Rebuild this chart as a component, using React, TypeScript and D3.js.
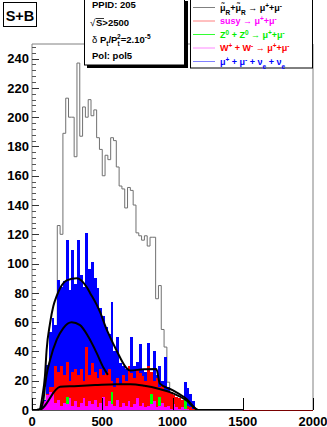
import * as d3 from 'd3';
import React, { useEffect, useRef } from 'react';

// bin width 20, bins start at 0
const BIN = 20;
const grayCounts = [0, 0, 1, 3, 6, 15, 30, 45, 55, 126, 120, 189, 213, 200, 200, 173, 237, 187, 207,
  200, 212, 201, 205, 186, 178, 160, 174, 171, 186, 184, 166, 153, 151, 138, 152, 150, 140, 121, 119,
  116, 119, 112, 118, 118, 76, 85, 55, 43, 19, 10, 6, 4, 2, 1];
const blueCounts = [0, 0, 1, 3, 7, 31, 53, 63, 58, 89, 84, 88, 116, 82, 109, 86, 116, 92, 84, 121, 96,
  101, 90, 83, 70, 64, 57, 52, 74, 40, 50, 32, 30, 28, 30, 50, 30, 33, 45, 28, 26, 46, 26, 40, 24, 30,
  20, 36, 16, 12, 10, 9, 8, 7, 19, 15, 11, 6, 1];
const redCounts = [0, 0, 0, 2, 5, 11, 16, 16, 30, 26, 30, 24, 33, 20, 26, 28, 24, 28, 20, 43, 24, 32,
  26, 22, 28, 24, 26, 28, 20, 16, 22, 18, 24, 20, 30, 25, 22, 27, 25, 23, 20, 30, 26, 20, 22, 16, 17,
  14, 13, 12, 10, 9, 8, 7, 5, 3, 2, 1];
const magentaCounts = [0, 0, 0, 2, 6, 10, 12, 11, 5, 7, 3, 5, 4, 8, 3, 6, 2, 5, 8, 3, 6, 4, 7, 2, 5, 9,
  3, 6, 4, 3, 7, 2, 5, 3, 6, 2, 4, 8, 3, 5, 2, 3, 4, 6, 2, 3, 5, 2, 3, 1, 4, 2, 1, 2, 1, 1];
const greenBins = [12, 28, 42, 45, 54];
const greenCounts = [9, 12, 11, 9, 7];
const HIST_END = 1500;

// fit curves, [x, value]
const fitUpper = [[0, 0], [50, 0], [75, 10], [92, 23], [104, 41], [128, 59], [152, 71], [176, 78],
  [199, 83], [247, 88.5], [318, 90], [389, 84], [413, 80], [460, 72], [484, 67], [531, 55], [555, 50],
  [600, 41], [626, 36], [674, 28.5], [697, 27], [792, 27.8], [885, 28], [910, 18], [1000, 13.5],
  [1100, 7.5], [1185, 0], [1500, 0]];
const fitMiddle = [[0, 0], [50, 0], [80, 6], [92, 16], [104, 24], [128, 34], [176, 48], [223, 56],
  [282, 60], [342, 58], [401, 50], [460, 39], [508, 29], [540, 24]];
const fitLower = [[0, 0], [50, 0], [200, 15.8], [300, 16.3], [450, 17], [600, 17.6], [700, 17.6],
  [800, 16.5], [900, 14.5], [1000, 11.5], [1100, 6.5], [1185, 0], [1500, 0]];

const xTicks = [0, 500, 1000, 1500, 2000];
const yMajor = [0, 20, 40, 60, 80, 100, 120, 140, 160, 180, 200, 220, 240];

const legendRows = [
  { line: '#808080', color: '#000', parts: [['μ̃', null], ['R', 'sub'], ['+μ̃', null], ['R', 'sub'], [' → μ', null], ['+', 'sup'], ['+μ', null], ['-', 'sup']] },
  { line: '#ff8080', color: '#ff00ff', parts: [['susy → μ', null], ['+', 'sup'], ['+μ', null], ['-', 'sup']] },
  { line: '#33ff33', color: '#00ee00', parts: [['Z', null], ['0', 'sup'], [' + Z', null], ['0', 'sup'], [' → μ', null], ['+', 'sup'], ['+μ', null], ['-', 'sup']] },
  { line: '#ff88ff', color: '#ff0000', parts: [['W', null], ['+', 'sup'], [' + W', null], ['-', 'sup'], [' → μ', null], ['+', 'sup'], ['+μ', null], ['-', 'sup']] },
  { line: '#8080ff', color: '#0000ff', parts: [['μ', null], ['+', 'sup'], [' + μ', null], ['-', 'sup'], [' + ν', null], ['e', 'sub'], [' + ν', null], ['e', 'sub']] },
];

const FONT = '"Liberation Sans", Arial, Helvetica, sans-serif';

const Chart = () => {
  const ref = useRef();

  useEffect(() => {
    const svg = d3.select(ref.current);
    svg.selectAll('*').remove();

    const x = d3.scaleLinear().domain([0, 2000]).range([32, 313]);
    const y = d3.scaleLinear().domain([0, 250]).range([410, 44]);

    svg.append('defs').append('clipPath').attr('id', 'frame')
      .append('rect').attr('x', 32).attr('y', 44).attr('width', 281).attr('height', 366);

    const plot = svg.append('g').attr('clip-path', 'url(#frame)');

    const toPts = (counts) => {
      const pts = counts.map((v, i) => [i * BIN, v]);
      pts.push([counts.length * BIN, counts[counts.length - 1]]);
      return pts;
    };
    const area = d3.area().curve(d3.curveStepAfter)
      .x(d => x(d[0])).y0(y(0)).y1(d => y(d[1]));

    // gray outline histogram
    const grayPts = toPts(grayCounts);
    grayPts.push([grayCounts.length * BIN, 0], [HIST_END, 0]);
    plot.append('path')
      .attr('d', d3.line().curve(d3.curveStepAfter).x(d => x(d[0])).y(d => y(d[1]))(grayPts))
      .attr('fill', 'none').attr('stroke', '#707070').attr('stroke-width', 1);

    plot.append('path').attr('d', area(toPts(blueCounts))).attr('fill', '#0000ff')
      .attr('shape-rendering', 'crispEdges');
    plot.append('path').attr('d', area(toPts(redCounts))).attr('fill', '#ff0000')
      .attr('shape-rendering', 'crispEdges');
    plot.selectAll('.gbin').data(greenBins).join('rect').attr('class', 'gbin')
      .attr('x', k => x(k * BIN)).attr('width', x(BIN) - x(0))
      .attr('y', (k, i) => y(greenCounts[i])).attr('height', (k, i) => y(0) - y(greenCounts[i]))
      .attr('fill', '#00ff00').attr('shape-rendering', 'crispEdges');
    plot.append('path').attr('d', area(toPts(magentaCounts))).attr('fill', '#ff00ff')
      .attr('shape-rendering', 'crispEdges');

    const fit = d3.line().curve(d3.curveMonotoneX).x(d => x(d[0])).y(d => y(d[1]));
    [fitUpper, fitMiddle, fitLower].forEach(pts => {
      plot.append('path').attr('d', fit(pts)).attr('fill', 'none')
        .attr('stroke', '#000').attr('stroke-width', 2);
    });

    // frame
    svg.append('path')
      .attr('d', `M${x(0)},${y(0)}V${y(250)}H${x(2000)}V${y(0)}`)
      .attr('fill', 'none').attr('stroke', '#808080').attr('stroke-width', 1);
    svg.append('line').attr('x1', x(0)).attr('x2', x(2000)).attr('y1', y(0) + 0.5).attr('y2', y(0) + 0.5)
      .attr('stroke', '#7a0000').attr('stroke-width', 1);
    svg.append('line').attr('x1', x(0)).attr('x2', x(HIST_END)).attr('y1', y(0) + 0.5).attr('y2', y(0) + 0.5)
      .attr('stroke', '#555').attr('stroke-width', 1);

    // y ticks
    const yMinor = d3.range(0, 250, 4);
    svg.selectAll('.ymin').data(yMinor).join('line').attr('class', 'ymin')
      .attr('x1', x(0)).attr('x2', x(0) + 4)
      .attr('y1', d => Math.round(y(d)) + 0.5).attr('y2', d => Math.round(y(d)) + 0.5)
      .attr('stroke', '#555');
    svg.selectAll('.ymaj').data(yMajor).join('line').attr('class', 'ymaj')
      .attr('x1', x(0)).attr('x2', x(0) + 7)
      .attr('y1', d => Math.round(y(d)) + 0.5).attr('y2', d => Math.round(y(d)) + 0.5)
      .attr('stroke', '#333');
    svg.selectAll('.ylab').data(yMajor).join('text').attr('class', 'ylab')
      .attr('x', 29).attr('y', d => y(d)).attr('dy', '0.36em')
      .attr('text-anchor', 'end').attr('font-family', FONT).attr('font-weight', 'bold')
      .attr('font-size', 13).text(d => d);

    // x ticks
    svg.selectAll('.xmaj').data(xTicks).join('line').attr('class', 'xmaj')
      .attr('x1', d => Math.round(x(d)) + 0.5).attr('x2', d => Math.round(x(d)) + 0.5)
      .attr('y1', y(0)).attr('y2', y(0) - 12).attr('stroke', '#000');
    svg.selectAll('.xlab').data(xTicks).join('text').attr('class', 'xlab')
      .attr('x', d => x(d)).attr('y', 425.5)
      .attr('text-anchor', 'middle').attr('font-family', FONT).attr('font-weight', 'bold')
      .attr('font-size', 13).text(d => d);
  }, []);

  return (
    <svg ref={ref} width={327} height={427} style={{ position: 'absolute', left: 0, top: 0, background: '#fff' }} />
  );
};

const Overlay = () => {
  const sup = { baselineShift: 'super', fontSize: 6.5 };
  const sub = { baselineShift: 'sub', fontSize: 6.5 };
  const rowY = [7.5, 21, 34.5, 48, 61.5];
  return (
    <svg width={327} height={427} style={{ position: 'absolute', left: 0, top: 0, pointerEvents: 'none' }}
      fontFamily={FONT} fontWeight="bold">
      {/* S+B */}
      <rect x={3.5} y={2.5} width={33} height={24} fill="#fff" stroke="#000" />
      <text x={20} y={20.5} textAnchor="middle" fontSize={14.5}>S+B</text>
      {/* info box */}
      <rect x={87} y={1} width={101} height={67} fill="#000" />
      <rect x={84.5} y={-2} width={100} height={67} fill="#fff" stroke="#000" />
      <text x={92} y={7.5} fontSize={9.5}>PPID: 205</text>
      <text x={90} y={26} fontSize={9.5} fontWeight="normal">√</text>
      <line x1={95.5} x2={104} y1={18.5} y2={18.5} stroke="#000" strokeWidth={0.8} />
      <text x={96} y={26} fontSize={9.5}>S&gt;2500</text>
      <text x={92} y={43} fontSize={9.5}>
        <tspan fontWeight="normal">δ</tspan>
        <tspan> P</tspan>
        <tspan dy={2.5} fontSize={6.5}>t</tspan>
        <tspan dy={-2.5}>/P</tspan>
        <tspan dy={2.5} fontSize={6.5}>t</tspan>
        <tspan dx={-2.5} dy={-7} fontSize={6.5}>2</tspan>
        <tspan dy={4.5}>=2.10</tspan>
        <tspan dy={-4} fontSize={6.5}>-5</tspan>
      </text>
      <text x={92} y={59} fontSize={9.5}>Pol: pol5</text>
      {/* legend */}
      <rect x={190.5} y={-2} width={122} height={70} fill="#fff" stroke="#000" />
      {legendRows.map((r, i) => (
        <g key={i}>
          <line x1={193} x2={215} y1={rowY[i]} y2={rowY[i]} stroke={r.line} strokeWidth={1} />
          <text x={220} y={rowY[i] + 3.3} fontSize={9} fill={r.color}>
            {r.parts.map(([t, s], j) => (
              <tspan key={j} {...(s === 'sup' ? sup : s === 'sub' ? sub : {})}>{t}</tspan>
            ))}
          </text>
        </g>
      ))}
    </svg>
  );
};

const App = () => (
  <div style={{ position: 'absolute', left: 0, top: 0, width: 327, height: 427 }}>
    <Chart />
    <Overlay />
  </div>
);

export default App;
